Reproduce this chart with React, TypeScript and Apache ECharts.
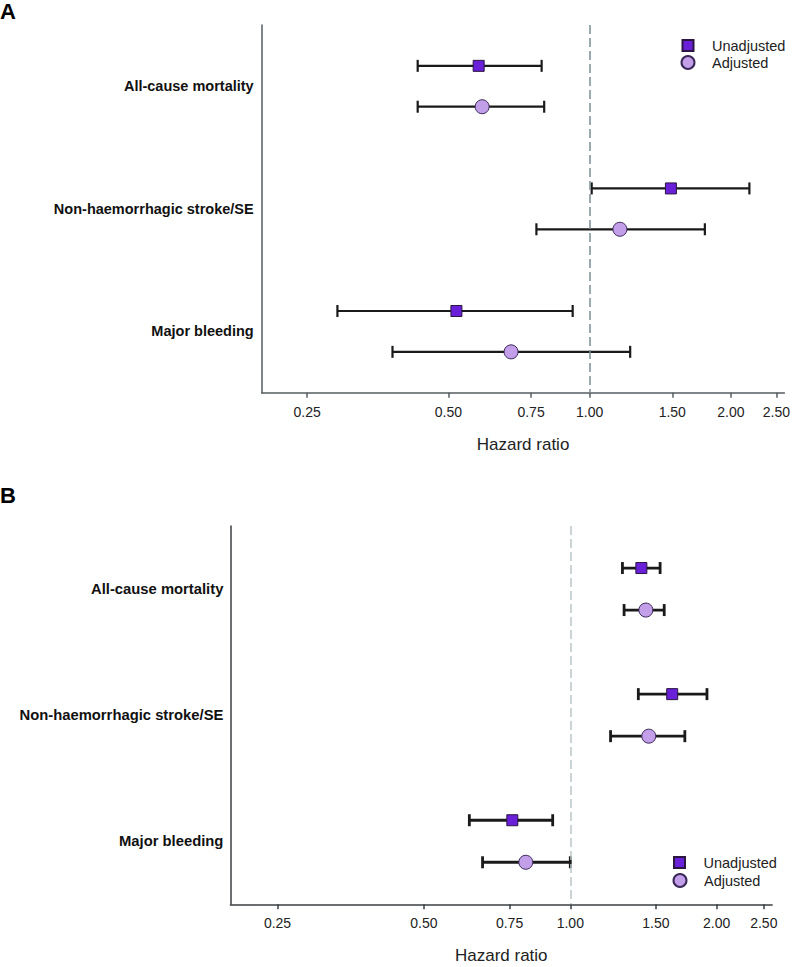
import React, { useEffect, useRef } from "react";
import * as echarts from "echarts";

// ---------- data ----------
const outcomes = ["All-cause mortality", "Non-haemorrhagic stroke/SE", "Major bleeding"];
const tickValues = [0.25, 0.5, 0.75, 1.0, 1.5, 2.0, 2.5];
const tickLabels = ["0.25", "0.50", "0.75", "1.00", "1.50", "2.00", "2.50"];
const xMin = 0.2;
const xMax = 2.6;
const refValue = 1.0;

// Panel A
const aUnadjHR = [0.58, 1.49, 0.52];
const aUnadjLow = [0.43, 1.01, 0.29];
const aUnadjHigh = [0.79, 2.19, 0.92];
const aAdjHR = [0.59, 1.16, 0.68];
const aAdjLow = [0.43, 0.77, 0.38];
const aAdjHigh = [0.8, 1.76, 1.22];

// Panel B
const bUnadjHR = [1.4, 1.62, 0.76];
const bUnadjLow = [1.28, 1.38, 0.62];
const bUnadjHigh = [1.53, 1.91, 0.92];
const bAdjHR = [1.43, 1.45, 0.81];
const bAdjLow = [1.29, 1.21, 0.66];
const bAdjHigh = [1.56, 1.72, 1.0];

const FONT = "'Liberation Sans', Arial, sans-serif";
const SQ_COLOR = "#6a1fd8";
const SQ_BORDER = "#2a1640";
const CI_COLOR = "#c39fea";
const CI_BORDER = "#3a2858";

const ln = (v: number) => Math.log(v);

function tickFormatter(v: number) {
  let best = 0;
  let bd = Infinity;
  tickValues.forEach((t, i) => {
    const d = Math.abs(ln(t) - v);
    if (d < bd) {
      bd = d;
      best = i;
    }
  });
  return tickLabels[best];
}

function outcomeFormatter(v: number) {
  const g = Math.round((v - 0.5) / 3);
  return outcomes[g] ?? "";
}

interface PanelCfg {
  idx: number;
  uHR: number[];
  uLo: number[];
  uHi: number[];
  aHR: number[];
  aLo: number[];
  aHi: number[];
  axisColor: string;
  refColor: string;
  barWidth: number;
  labelMargin: number;
  labelSize: number;
  nameGap: number;
}

function buildPanel(c: PanelCfg) {
  const xAxis = {
    gridIndex: c.idx,
    type: "value",
    min: ln(xMin),
    max: ln(xMax),
    splitLine: { show: false },
    axisLine: { show: true, onZero: false, lineStyle: { color: c.axisColor, width: 1.5 } },
    axisTick: {
      show: true,
      length: 5,
      customValues: tickValues.map(ln),
      lineStyle: { color: c.axisColor, width: 1.5 },
    },
    axisLabel: {
      customValues: tickValues.map(ln),
      formatter: tickFormatter,
      fontSize: 14,
      color: "#222",
      margin: 12,
      fontFamily: FONT,
    },
    name: "Hazard ratio",
    nameLocation: "middle",
    nameGap: c.nameGap,
    nameTextStyle: { fontSize: 17, color: "#222", fontFamily: FONT },
  };
  const yAxis = {
    gridIndex: c.idx,
    type: "value",
    inverse: true,
    min: -1,
    max: 8,
    splitLine: { show: false },
    axisLine: { show: true, onZero: false, lineStyle: { color: c.axisColor, width: 1.5 } },
    axisTick: { show: false },
    axisLabel: {
      customValues: outcomes.map((_, g) => 3 * g + 0.5),
      formatter: outcomeFormatter,
      fontSize: c.labelSize,
      fontWeight: "bold",
      color: "#111",
      margin: c.labelMargin,
      fontFamily: FONT,
    },
  };

  const barData: number[][] = [];
  outcomes.forEach((_, g) => {
    barData.push([ln(c.uLo[g]), ln(c.uHi[g]), 3 * g]);
    barData.push([ln(c.aLo[g]), ln(c.aHi[g]), 3 * g + 1]);
  });

  const series = [
    {
      type: "custom",
      xAxisIndex: c.idx,
      yAxisIndex: c.idx,
      z: 2,
      encode: { x: [0, 1], y: 2 },
      data: barData,
      renderItem: (params: any, api: any) => {
        const lo = api.coord([api.value(0), api.value(2)]);
        const hi = api.coord([api.value(1), api.value(2)]);
        const h = 6;
        const style = { stroke: "#1a1a1a", lineWidth: c.barWidth };
        return {
          type: "group",
          children: [
            { type: "line", shape: { x1: lo[0], y1: lo[1], x2: hi[0], y2: hi[1] }, style },
            { type: "line", shape: { x1: lo[0], y1: lo[1] - h, x2: lo[0], y2: lo[1] + h }, style },
            { type: "line", shape: { x1: hi[0], y1: hi[1] - h, x2: hi[0], y2: hi[1] + h }, style },
          ],
        };
      },
      markLine: {
        silent: true,
        symbol: ["none", "none"],
        label: { show: false },
        lineStyle: { type: [9, 4], color: c.refColor, width: 1.5 },
        data: [{ xAxis: ln(refValue) }],
      },
    },
    {
      type: "scatter",
      name: "Unadjusted",
      xAxisIndex: c.idx,
      yAxisIndex: c.idx,
      z: 4,
      symbol: "rect",
      symbolSize: 11,
      itemStyle: { color: SQ_COLOR, borderColor: SQ_BORDER, borderWidth: 1, opacity: 1 },
      data: c.uHR.map((v, g) => [ln(v), 3 * g]),
    },
    {
      type: "scatter",
      name: "Adjusted",
      xAxisIndex: c.idx,
      yAxisIndex: c.idx,
      z: 4,
      symbol: "circle",
      symbolSize: 14,
      itemStyle: { color: CI_COLOR, borderColor: CI_BORDER, borderWidth: 1, opacity: 1 },
      data: c.aHR.map((v, g) => [ln(v), 3 * g + 1]),
    },
  ];
  return { xAxis, yAxis, series };
}

function legendItem(name: string, icon: string, size: number, cx: number, cy: number) {
  return {
    data: [{ name, icon }],
    orient: "vertical",
    left: cx - size / 2,
    top: cy - 8,
    padding: 0,
    itemWidth: size,
    itemHeight: size,
    selectedMode: false,
    textStyle: {
      fontSize: 14.5,
      color: "#222",
      fontFamily: FONT,
      padding: [0, 0, 0, 19 - size / 2],
    },
  };
}

export default function App() {
  const ref = useRef<HTMLDivElement>(null);
  useEffect(() => {
    if (!ref.current) return;
    const chart = echarts.init(ref.current, undefined, { renderer: "svg" });
    const pA = buildPanel({
      idx: 0,
      uHR: aUnadjHR,
      uLo: aUnadjLow,
      uHi: aUnadjHigh,
      aHR: aAdjHR,
      aLo: aAdjLow,
      aHi: aAdjHigh,
      axisColor: "#555d60",
      refColor: "#7a8e94",
      barWidth: 2.2,
      labelMargin: 8,
      labelSize: 14.5,
      nameGap: 43,
    });
    const pB = buildPanel({
      idx: 1,
      uHR: bUnadjHR,
      uLo: bUnadjLow,
      uHi: bUnadjHigh,
      aHR: bAdjHR,
      aLo: bAdjLow,
      aHi: bAdjHigh,
      axisColor: "#3a3f42",
      refColor: "#b9c6ca",
      barWidth: 2.8,
      labelMargin: 7,
      labelSize: 14.8,
      nameGap: 43,
    });
    const option: any = {
      animation: false,
      backgroundColor: "#ffffff",
      textStyle: { fontFamily: FONT },
      title: [
        { text: "A", left: 0, top: 0, padding: 0, textStyle: { fontSize: 22, fontWeight: "bold", color: "#000", fontFamily: FONT } },
        { text: "B", left: 0, top: 484, padding: 0, textStyle: { fontSize: 22, fontWeight: "bold", color: "#000", fontFamily: FONT } },
      ],
      legend: [
        legendItem("Unadjusted", "rect", 11, 687, 46),
        legendItem("Adjusted", "circle", 13, 687, 63),
        legendItem("Unadjusted", "rect", 11, 678.5, 863),
        legendItem("Adjusted", "circle", 13, 679, 881),
      ],
      grid: [
        { left: 261.7, top: 25, right: 7, height: 367.7 },
        { left: 230.4, top: 526, right: 20.9, height: 378.3 },
      ],
      xAxis: [pA.xAxis, pB.xAxis],
      yAxis: [pA.yAxis, pB.yAxis],
      series: [...pA.series, ...pB.series],
    };
    chart.setOption(option);
    return () => chart.dispose();
  }, []);
  return (
    <div
      ref={ref}
      style={{ position: "absolute", left: 0, top: 0, width: 793, height: 967 }}
    />
  );
}
